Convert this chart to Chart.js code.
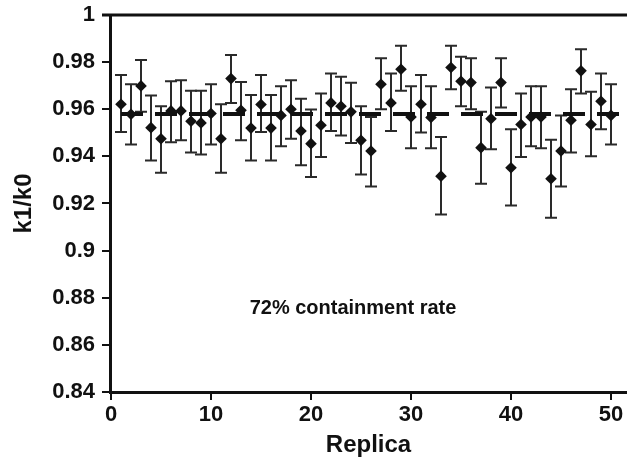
<!DOCTYPE html>
<html>
<head>
<meta charset="utf-8">
<script src="https://cdn.jsdelivr.net/npm/chart.js@4.4.1/dist/chart.umd.min.js"></script>
<style>
html,body{margin:0;padding:0;background:#fff;overflow:hidden;}
#wrap{width:627px;height:460px;}
canvas{display:block;}
</style>
</head>
<body>
<div id="wrap"><canvas id="c" width="627" height="460"></canvas></div>
<script>
// ---- data ----
const replicas = [1,2,3,4,5,6,7,8,9,10,11,12,13,14,15,16,17,18,19,20,21,22,23,24,25,26,27,28,29,30,31,32,33,34,35,36,37,38,39,40,41,42,43,44,45,46,47,48,49,50];
const ratio = [0.9621,0.9579,0.9699,0.9522,0.9475,0.9593,0.9593,0.9549,0.9542,0.9582,
               0.9475,0.9730,0.9596,0.9520,0.9620,0.9520,0.9574,0.9600,0.9508,0.9454,
               0.9532,0.9627,0.9613,0.9589,0.9468,0.9423,0.9706,0.9627,0.9770,0.9567,
               0.9621,0.9565,0.9316,0.9777,0.9719,0.9713,0.9437,0.9560,0.9713,0.9352,
               0.9535,0.9567,0.9567,0.9305,0.9423,0.9553,0.9763,0.9535,0.9634,0.9574];
const errHigh = [0.9745,0.9706,0.9809,0.9658,0.9613,0.9719,0.9723,0.9678,0.9678,0.9706,
                 0.9621,0.9830,0.9716,0.9660,0.9745,0.9660,0.9698,0.9723,0.9645,0.9599,
                 0.9667,0.9752,0.9738,0.9712,0.9613,0.9567,0.9816,0.9752,0.9869,0.9698,
                 0.9745,0.9698,0.9482,0.9869,0.9823,0.9816,0.9589,0.9692,0.9816,0.9515,
                 0.9667,0.9698,0.9698,0.9471,0.9574,0.9685,0.9855,0.9674,0.9752,0.9706];
const errLow = [0.9503,0.9450,0.9589,0.9383,0.9330,0.9460,0.9468,0.9416,0.9408,0.9450,
                0.9330,0.9627,0.9468,0.9383,0.9503,0.9383,0.9443,0.9475,0.9362,0.9312,
                0.9397,0.9508,0.9489,0.9457,0.9323,0.9272,0.9600,0.9508,0.9678,0.9435,
                0.9501,0.9435,0.9153,0.9685,0.9613,0.9600,0.9284,0.9430,0.9607,0.9191,
                0.9397,0.9443,0.9435,0.9139,0.9272,0.9416,0.9667,0.9401,0.9515,0.9450];
const meanLineX = [1, 51];
const meanValue = 0.958;
const xTicks = [0,10,20,30,40,50];
const yTicks = [0.84,0.86,0.88,0.9,0.92,0.94,0.96,0.98,1];
const annotationText = "72% containment rate";
const annotationPos = {x: 24.2, y: 0.8753};

const FONT = "'Liberation Sans', Arial, Helvetica, sans-serif";
const INK = '#111111';

const errorBars = {
  id: 'errorBars',
  beforeDatasetsDraw(chart) {
    const {ctx, scales: {x, y}} = chart;
    ctx.save();
    ctx.strokeStyle = '#2a2a2a';
    ctx.lineWidth = 2;
    const cap = 6;
    replicas.forEach((r, i) => {
      const px = x.getPixelForValue(r);
      const top = y.getPixelForValue(errHigh[i]);
      const bot = y.getPixelForValue(errLow[i]);
      ctx.beginPath();
      ctx.moveTo(px, top); ctx.lineTo(px, bot);
      ctx.moveTo(px - cap, top); ctx.lineTo(px + cap, top);
      ctx.moveTo(px - cap, bot); ctx.lineTo(px + cap, bot);
      ctx.stroke();
    });
    ctx.restore();
  },
  afterDraw(chart) {
    const {ctx, chartArea, scales: {x, y}} = chart;
    ctx.save();
    ctx.strokeStyle = INK;
    ctx.lineWidth = 3;
    ctx.beginPath();
    ctx.moveTo(chartArea.left - 8, chartArea.top);
    ctx.lineTo(627, chartArea.top);
    ctx.stroke();
    ctx.fillStyle = INK;
    ctx.font = "bold 20px " + FONT;
    ctx.textAlign = 'center';
    ctx.textBaseline = 'middle';
    ctx.fillText(annotationText, x.getPixelForValue(annotationPos.x), y.getPixelForValue(annotationPos.y));
    ctx.restore();
  }
};

function zeroPad(s) { s.paddingLeft = 0; s.paddingRight = 0; s.paddingTop = 0; s.paddingBottom = 0; }

new Chart(document.getElementById('c'), {
  type: 'scatter',
  data: {
    datasets: [
      {
        label: 'k1/k0',
        data: replicas.map((r, i) => ({x: r, y: ratio[i]})),
        pointStyle: 'rectRot',
        pointRadius: 5.8,
        backgroundColor: INK,
        borderColor: INK,
        borderWidth: 0,
        showLine: false
      },
      {
        label: 'mean',
        data: meanLineX.map(v => ({x: v, y: meanValue})),
        showLine: true,
        borderColor: INK,
        borderWidth: 4,
        borderDash: [22, 12],
        pointRadius: 0,
        fill: false
      }
    ]
  },
  options: {
    responsive: false,
    animation: false,
    devicePixelRatio: 1,
    clip: false,
    layout: {autoPadding: false, padding: {top: 15, right: 0, left: 0, bottom: 0}},
    plugins: {legend: {display: false}, tooltip: {enabled: false}},
    scales: {
      x: {
        type: 'linear',
        min: -0.1,
        max: 51.6,
        afterBuildTicks: s => { s.ticks = xTicks.map(v => ({value: v})); },
        afterFit: s => { s.height = 68; zeroPad(s); },
        border: {display: true, color: INK, width: 3},
        grid: {drawOnChartArea: false, drawTicks: true, tickLength: 8, lineWidth: 2, color: INK},
        ticks: {color: INK, padding: 2, font: {family: FONT, size: 22, weight: 'bold'}, maxRotation: 0},
        title: {display: true, text: 'Replica', color: INK, padding: {top: 0, bottom: 0}, font: {family: FONT, size: 24, weight: 'bold'}}
      },
      y: {
        type: 'linear',
        min: 0.84,
        max: 1,
        afterBuildTicks: s => { s.ticks = yTicks.map(v => ({value: v})); },
        afterFit: s => { s.width = 110; zeroPad(s); },
        border: {display: true, color: INK, width: 3},
        grid: {drawOnChartArea: false, drawTicks: true, tickLength: 8, lineWidth: 2, color: INK},
        ticks: {color: INK, padding: 7, font: {family: FONT, size: 22, weight: 'bold'}, callback: v => String(+v.toFixed(2))},
        title: {display: true, text: 'k1/k0', color: INK, padding: {top: 10, bottom: 0}, font: {family: FONT, size: 24, weight: 'bold'}}
      }
    }
  },
  plugins: [errorBars]
});
</script>
</body>
</html>
